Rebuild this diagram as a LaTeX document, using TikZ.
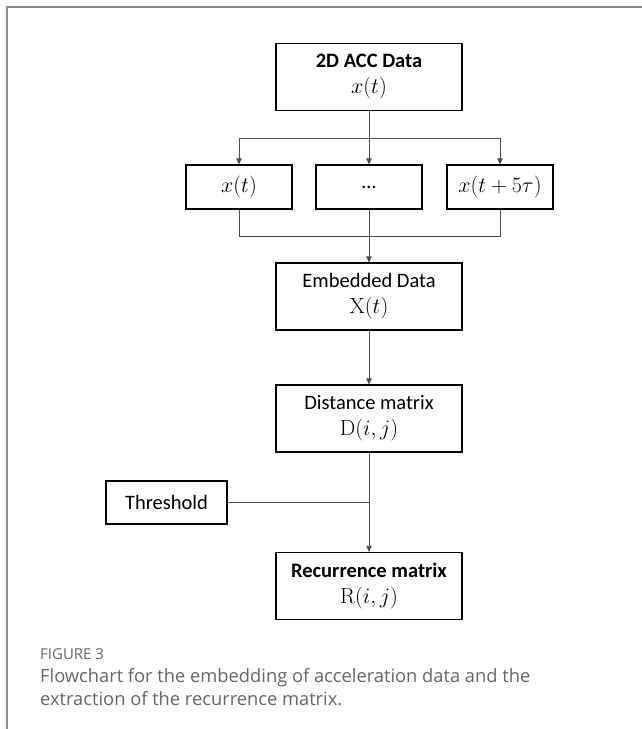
\RequirePackage{fix-cm}
\documentclass[tikz,border=0pt]{standalone}
\usepackage[no-math]{fontspec}
\setmainfont{Carlito}
\newfontfamily\capfont{Open Sans}
\usetikzlibrary{arrows.meta}
\definecolor{framegray}{HTML}{8C8C8C}
\definecolor{capgray}{HTML}{666666}
\newcommand{\boxmath}[1]{{\fontsize{22}{26}\selectfont$#1$}}
\begin{document}
\begin{tikzpicture}[x=1pt,y=-1pt,
  boxbase/.style={draw=black, line width=1.3pt, inner sep=0pt, align=center,
    font=\fontsize{20.5}{26}\selectfont},
  bigbox/.style={boxbase, minimum width=186pt, minimum height=67pt},
  smallbox/.style={boxbase, minimum width=106pt, minimum height=44pt},
  thbox/.style={boxbase, minimum width=121pt, minimum height=43pt},
  link/.style={draw=black!70, line width=0.8pt},
  arr/.style={link, -{Triangle[length=6pt,width=5.5pt]}},
  captext/.style={anchor=base west, inner sep=0pt, text=capgray, font=\capfont\fontsize{18.3}{23}\selectfont}
]
\useasboundingbox (0,0) rectangle (642,729);
\fill[white] (0,0) rectangle (642,729);
% frame
\draw[framegray, line width=2pt] (7,729) -- (7,7) -- (642,7);

% nodes
\node[bigbox] (top) at (369,77) {\textbf{2D ACC Data}\\\boxmath{x(t)}};
\node[smallbox] (b1) at (239,187) {\boxmath{x(t)}};
\node[smallbox] (b2) at (369,187) {…};
\node[smallbox] (b3) at (500,187) {\boxmath{x(t+5\tau)}};
\node[bigbox] (emb) at (369,296.5) {Embedded Data\\\boxmath{\mathrm{X}(t)}};
\node[bigbox] (dist) at (369,418.5) {Distance matrix\\\boxmath{\mathrm{D}(i,j)}};
\node[thbox] (thr) at (166.5,502.5) {Threshold};
\node[bigbox] (rec) at (369,586) {\textbf{Recurrence matrix}\\\boxmath{\mathrm{R}(i,j)}};

\coordinate (hs) at (369,138);
\coordinate (hb) at (369,236);

% connectors
\draw[arr] (top.south) -- (b2.north);
\draw[link] (b1.north |- hs) -- (b3.north |- hs);
\draw[arr] (b1.north |- hs) -- (b1.north);
\draw[arr] (b3.north |- hs) -- (b3.north);
\draw[link] (b1.south) -- (b1.south |- hb) -- (b3.south |- hb) -- (b3.south);
\draw[arr] (b2.south) -- (emb.north);
\draw[arr] (emb.south) -- (dist.north);
\draw[arr] (dist.south) -- (rec.north);
\draw[link] (thr.east) -- (thr.east -| dist.south);

% caption
\node[captext, font=\capfont\fontsize{15}{18}\selectfont] (cap0) at (40,659) {FIGURE 3};
\node[captext] (cap1) at (40,682) {Flowchart for the embedding of acceleration data and the};
\node[captext] (cap2) at (40,705) {extraction of the recurrence matrix.};
\end{tikzpicture}
\end{document}
